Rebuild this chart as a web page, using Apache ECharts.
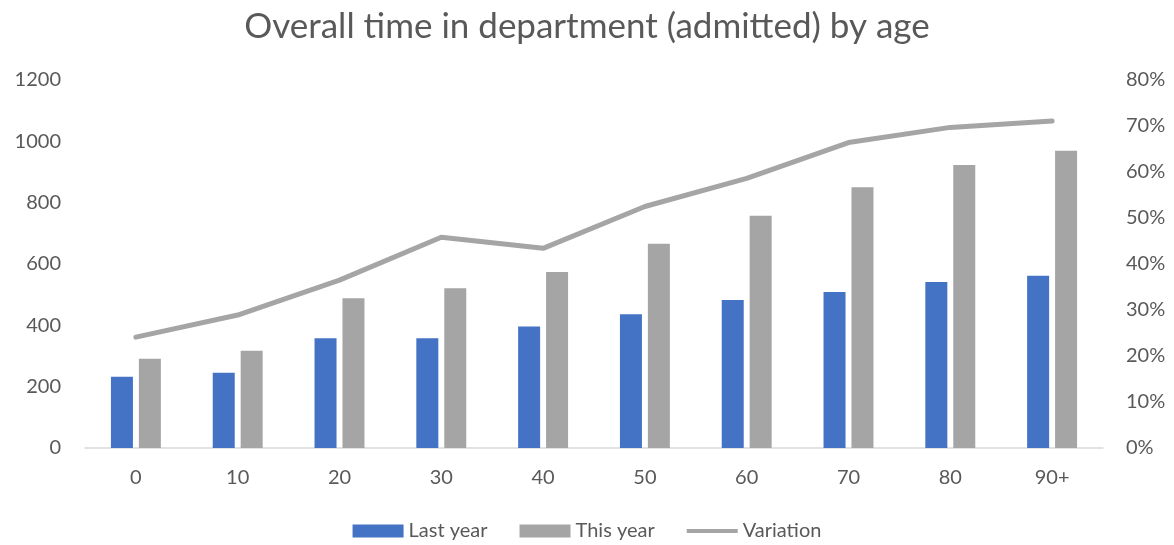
<!DOCTYPE html>
<html><head><meta charset="utf-8">
<script src="https://cdn.jsdelivr.net/npm/echarts@6/dist/echarts.min.js"></script>
<style>html,body{margin:0;padding:0;background:#fff}#c{width:1174px;height:545px}</style>
</head><body><div id="c"></div>
<script>
const categories = ['0','10','20','30','40','50','60','70','80','90+'];
const lastYear = [232, 245, 358, 358, 396, 436, 483, 509, 541, 562];
const thisYear = [291, 317, 488, 521, 574, 666, 757, 850, 923, 969];
const variation = [0.241, 0.289, 0.365, 0.458, 0.434, 0.525, 0.586, 0.664, 0.697, 0.711];
const leftTicks = [0, 200, 400, 600, 800, 1000, 1200];
const rightTicks = [0, 0.1, 0.2, 0.3, 0.4, 0.5, 0.6, 0.7, 0.8];

const font = 'Lato, "Open Sans", sans-serif';
const chart = echarts.init(document.getElementById('c'));
chart.setOption({
  animation: false,
  title: { text: 'Overall time in department (admitted) by age', left: 'center', top: 4,
    textStyle: { fontFamily: font, fontSize: 35, fontWeight: 'normal', color: '#595959' } },
  legend: { top: 521, left: 'center', padding: 0, itemGap: 32, itemWidth: 51, itemHeight: 13,
    textStyle: { fontFamily: font, fontSize: 20, color: '#595959' },
    data: [{name:'Last year', icon:'rect'}, {name:'This year', icon:'rect'},
           {name:'Variation', icon:'path://M0,0 L110,0 L110,9 L0,9 Z'}] },
  grid: { left: 85, right: 71, top: 80, bottom: 97, containLabel: false },
  xAxis: { type: 'category', data: categories,
    axisLine: { lineStyle: { color: '#d9d9d9', width: 1.5 } }, axisTick: { show: false },
    axisLabel: { fontFamily: font, fontSize: 20, color: '#595959', margin: 20 } },
  yAxis: [
    { type: 'value', min: leftTicks[0], max: leftTicks[leftTicks.length-1], interval: 200,
      splitLine: { show: false }, axisLine: { show: false }, axisTick: { show: false },
      axisLabel: { fontFamily: font, fontSize: 20, color: '#595959', margin: 24,
        formatter: v => String(v) } },
    { type: 'value', min: rightTicks[0], max: rightTicks[rightTicks.length-1], interval: 0.1,
      splitLine: { show: false }, axisLine: { show: false }, axisTick: { show: false },
      axisLabel: { fontFamily: font, fontSize: 20, color: '#595959', margin: 23, align: 'left',
        formatter: v => Math.round(v*100) + '%' } }
  ],
  series: [
    { name: 'Last year', type: 'bar', data: lastYear, barWidth: 22, barGap: '27%',
      itemStyle: { color: '#4472c4' } },
    { name: 'This year', type: 'bar', data: thisYear, barWidth: 22,
      itemStyle: { color: '#a5a5a5' } },
    { name: 'Variation', type: 'line', yAxisIndex: 1, data: variation, symbol: 'none',
      lineStyle: { color: '#a5a5a5', width: 5, cap: 'round', join: 'round' },
      itemStyle: { color: '#a5a5a5' } }
  ]
});
</script></body></html>
